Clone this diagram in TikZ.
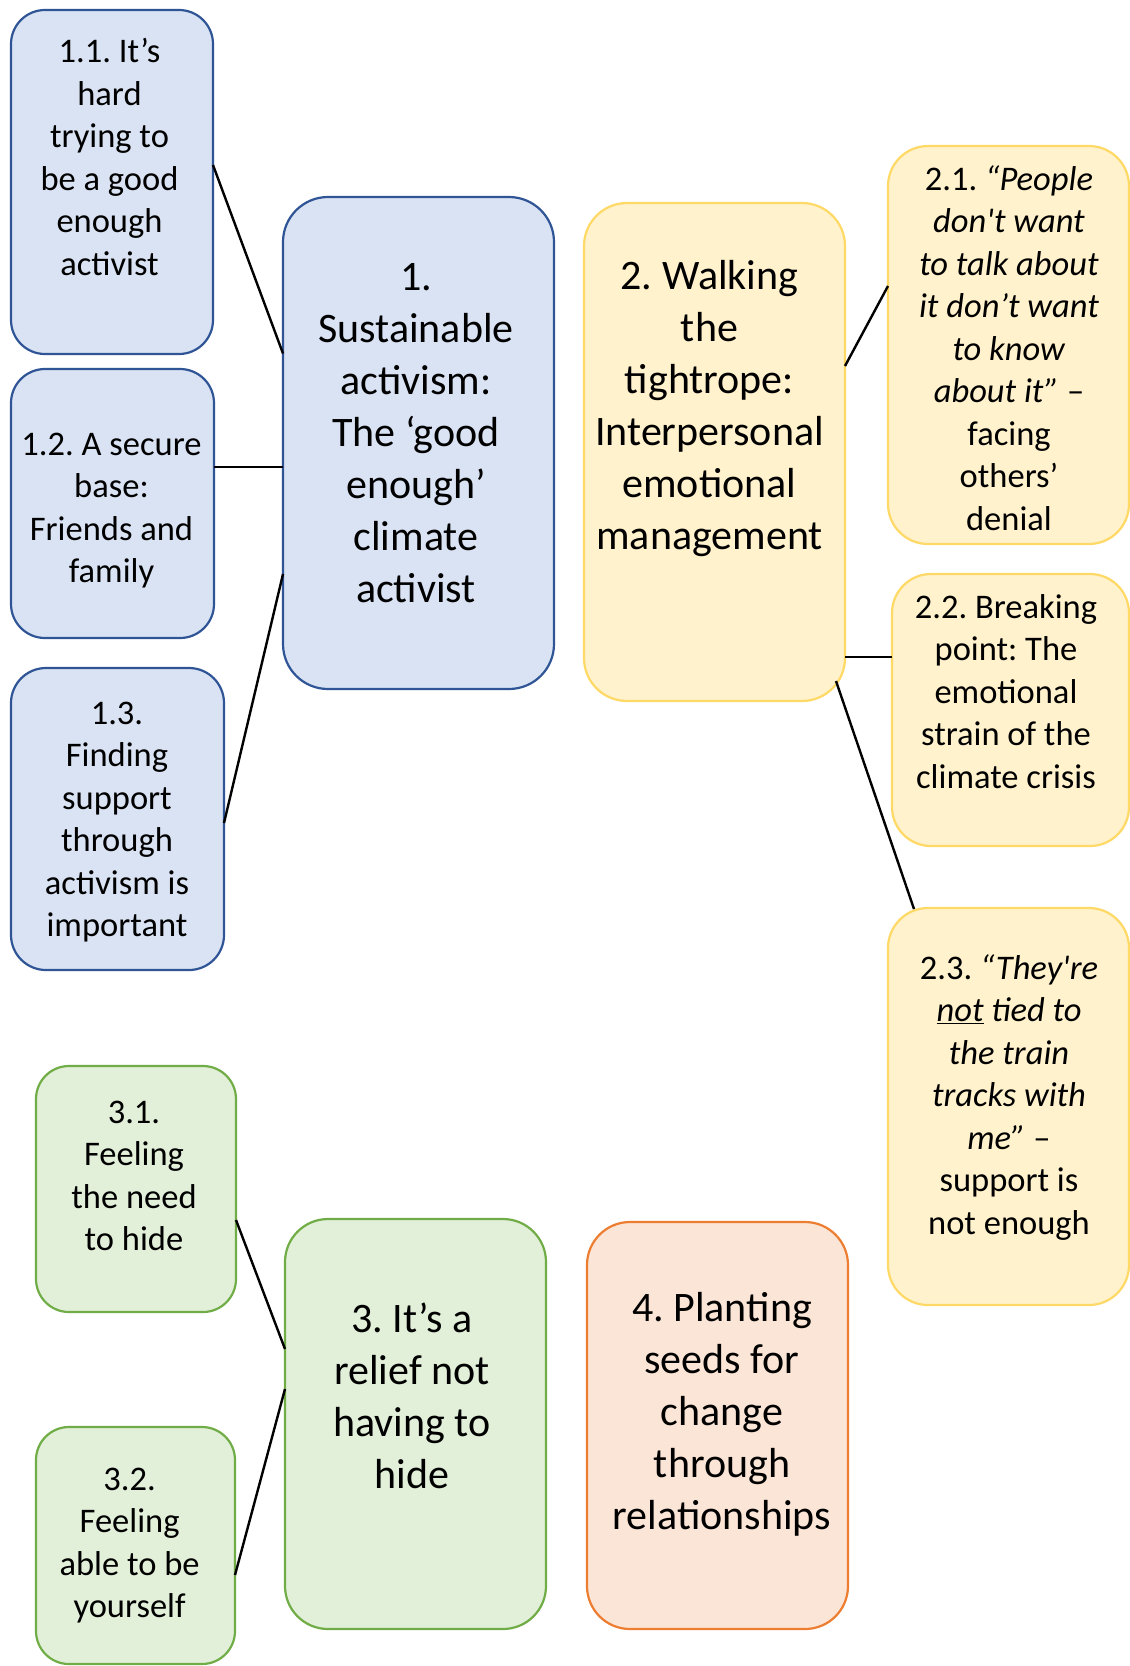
\documentclass[tikz,border=0pt]{standalone}
\usepackage{fontspec}
\setmainfont{Carlito}
\usetikzlibrary{calc}
\frenchspacing
\definecolor{bluefill}{HTML}{DAE3F3}
\definecolor{blueline}{HTML}{2F5597}
\definecolor{yelfill}{HTML}{FFF2CC}
\definecolor{yelline}{HTML}{FFD966}
\definecolor{grnfill}{HTML}{E2F0D9}
\definecolor{grnline}{HTML}{70AD47}
\definecolor{orgfill}{HTML}{FBE5D6}
\definecolor{orgline}{HTML}{ED7D31}
\begin{document}
\begin{tikzpicture}[x=1pt,y=-1pt,
  box/.style={draw, line width=2.2pt, inner sep=0pt, outer sep=0pt},
  bluebox/.style={box, fill=bluefill, draw=blueline},
  yelbox/.style={box, fill=yelfill, draw=yelline},
  grnbox/.style={box, fill=grnfill, draw=grnline},
  orgbox/.style={box, fill=orgfill, draw=orgline},
  small/.style={align=center, font=\fontsize{34.5}{42.5}\selectfont, inner sep=0pt},
  big/.style={align=center, font=\fontsize{42}{52}\selectfont, inner sep=0pt},
  link/.style={line width=2.4pt, draw=black}]
\useasboundingbox (0,0) rectangle (1130,1666);
\fill[white] (0,0) rectangle (1130,1666);
% boxes
\node[bluebox, minimum width=202pt, minimum height=344pt, rounded corners=34pt] (b11) at (112,182) {};
\node[bluebox, minimum width=203pt, minimum height=269pt, rounded corners=34pt] (b12) at (112.5,503.5) {};
\node[bluebox, minimum width=213pt, minimum height=302pt, rounded corners=35pt] (b13) at (117.5,819) {};
\node[bluebox, minimum width=271pt, minimum height=492pt, rounded corners=45pt] (b1) at (418.5,443) {};
\node[yelbox, minimum width=261pt, minimum height=498pt, rounded corners=43pt] (b2) at (714.5,452) {};
\node[yelbox, minimum width=241pt, minimum height=398pt, rounded corners=40pt] (b21) at (1008.5,345) {};
\node[yelbox, minimum width=237pt, minimum height=272pt, rounded corners=39pt] (b22) at (1010.5,710) {};
\node[yelbox, minimum width=241pt, minimum height=397pt, rounded corners=40pt] (b23) at (1008.5,1106.5) {};
\node[grnbox, minimum width=200pt, minimum height=246pt, rounded corners=33pt] (b31) at (136,1189) {};
\node[grnbox, minimum width=199pt, minimum height=237pt, rounded corners=33pt] (b32) at (135.5,1545.5) {};
\node[grnbox, minimum width=261pt, minimum height=410pt, rounded corners=43pt] (b3) at (415.5,1424) {};
\node[orgbox, minimum width=261pt, minimum height=407pt, rounded corners=43pt] (b4) at (717.5,1425.5) {};
% texts
\node[small] (t11) at (109.5,157) {1.1. It’s\\hard\\trying to\\be a good\\enough\\activist};
\node[small] (t12) at (111.5,510.5) {1.2. A secure\\base:\\Friends and\\family};
\node[small] (t13) at (117,822) {1.3.\\Finding\\support\\through\\activism is\\important};
\node[big] (t1) at (416,433) {1.\\Sustainable\\activism:\\The ‘good\\enough’\\climate\\activist};
\node[big] (t2) at (709.5,409) {2. Walking\\the\\tightrope:\\Interpersonal\\emotional\\management};
\node[small] (t21) at (1009,348) {2.1. \textit{“People}\\\textit{don\textquotesingle t want}\\\textit{to talk about}\\\textit{it don’t want}\\\textit{to know}\\\textit{about it”} –\\facing\\others’\\denial};
\node[small] (t22) at (1006,691.5) {2.2. Breaking\\point: The\\emotional\\strain of the\\climate crisis};
\node[small] (t23) at (1009,1097.5) {2.3. \textit{“They\textquotesingle re}\\\textit{\underline{not} tied to}\\\textit{the train}\\\textit{tracks with}\\\textit{me”} –\\support is\\not enough};
\node[small] (t31) at (134,1176) {3.1.\\Feeling\\the need\\to hide};
\node[small] (t32) at (129.6,1545.5) {3.2.\\Feeling\\able to be\\yourself};
\node[big] (t3) at (412,1396) {3. It’s a\\relief not\\having to\\hide};
\node[big] (t4) at (722,1414) {4. Planting\\seeds for\\change\\through\\relationships};
% connectors
\draw[link] ($(b11.north east)+(0,155)$) -- ($(b1.north west)+(0,156.5)$);
\draw[link] ($(b12.north east)+(0,98)$) -- ($(b1.north west)+(0,270)$);
\draw[link] ($(b13.north east)+(0,155)$) -- ($(b1.north west)+(0,377)$);
\draw[link] ($(b2.north east)+(0,163)$) -- ($(b21.north west)+(0,140)$);
\draw[link] ($(b2.north east)+(0,454)$) -- ($(b22.north west)+(0,83)$);
\draw[link] ($(b2.south east)+(-9,-20)$) -- ($(b23.north west)+(26,1)$);
\draw[link] ($(b31.north east)+(0,154)$) -- ($(b3.north west)+(0,130)$);
\draw[link] ($(b32.north east)+(0,148)$) -- ($(b3.north west)+(0,170)$);
\end{tikzpicture}
\end{document}
